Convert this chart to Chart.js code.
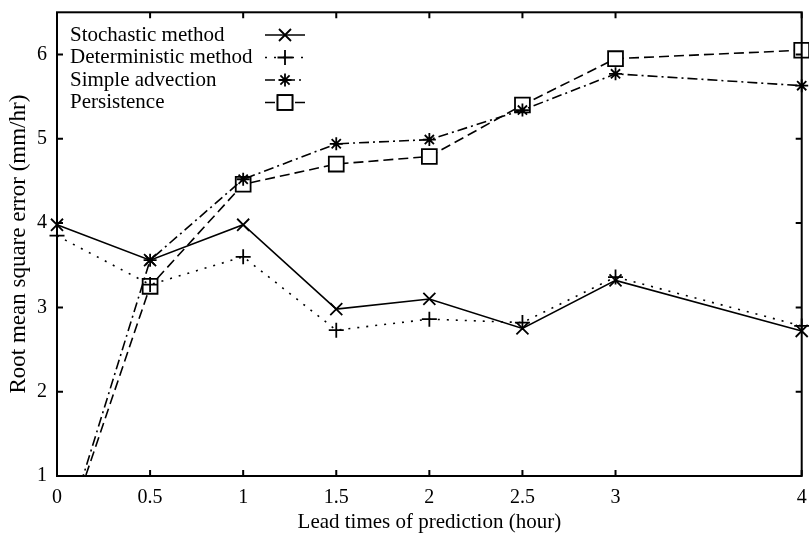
<!DOCTYPE html>
<html>
<head>
<meta charset="utf-8">
<script src="https://cdn.jsdelivr.net/npm/chart.js@4/dist/chart.umd.min.js"></script>
<style>
html,body{margin:0;padding:0;background:#fff;overflow:hidden}
#wrap{width:814px;height:538px;position:relative}
canvas{display:block}
</style>
</head>
<body>
<div id="wrap"><canvas id="c"></canvas></div>
<script>
const leadTimes=[0,0.5,1,1.5,2,2.5,3,4];
const xTicks=[0,0.5,1,1.5,2,2.5,3,4];
const yTicks=[1,2,3,4,5,6];
const stochastic=[3.98,3.56,3.98,2.98,3.1,2.75,3.32,2.72];
const deterministic=[3.85,3.27,3.6,2.73,2.86,2.82,3.36,2.78];
const advection=[0,3.56,4.52,4.94,4.99,5.34,5.77,5.63];
const persistence=[0,3.25,4.46,4.70,4.79,5.40,5.95,6.05];
const names=["Stochastic method","Deterministic method","Simple advection","Persistence"];

const font="'Liberation Serif','DejaVu Serif',serif";
const pts=v=>leadTimes.map((x,i)=>({x:x,y:v[i]}));
const clip={left:12,top:12,right:12,bottom:0};

function ds(label,vals,style,r,dash){
  return {label:label,data:pts(vals),borderColor:"#000",borderWidth:1.6,borderDash:dash,
    pointStyle:style,pointRadius:r,pointHoverRadius:r,pointBorderColor:"#000",
    pointBackgroundColor:"#fff",pointBorderWidth:1.8,tension:0,fill:false,clip:clip};
}

const frame={
  id:"frame",
  afterDatasetsDraw(chart){
    const c=chart.ctx,a=chart.chartArea,sx=chart.scales.x,sy=chart.scales.y;
    c.save();
    c.strokeStyle="#000";c.lineWidth=2;c.setLineDash([]);
    c.strokeRect(a.left,a.top,a.right-a.left,a.bottom-a.top);
    xTicks.forEach(v=>{
      const p=sx.getPixelForValue(v);
      c.beginPath();c.moveTo(p,a.bottom);c.lineTo(p,a.bottom-6);
      c.moveTo(p,a.top);c.lineTo(p,a.top+6);c.stroke();
    });
    yTicks.forEach(v=>{
      const p=sy.getPixelForValue(v);
      c.beginPath();c.moveTo(a.left,p);c.lineTo(a.left+6,p);
      c.moveTo(a.right,p);c.lineTo(a.right-6,p);c.stroke();
    });
    // legend: text on the left, sample on the right
    c.font="21px "+font;c.fillStyle="#000";c.textBaseline="middle";c.textAlign="left";
    chart.data.datasets.forEach((d,i)=>{
      const y=35+i*22.5;
      c.fillText(d.label,70,y);
      c.lineWidth=d.borderWidth;c.setLineDash(d.borderDash||[]);
      c.beginPath();c.moveTo(265,y);c.lineTo(305,y);c.stroke();
      c.setLineDash([]);
      c.lineWidth=d.pointBorderWidth;
      Chart.helpers.drawPoint(c,{pointStyle:d.pointStyle,radius:d.pointRadius,rotation:0,borderWidth:d.pointBorderWidth},285,y);
      if(d.pointStyle==="rect"){c.fillStyle="#fff";c.fill();c.stroke();c.fillStyle="#000";}
    });
    c.restore();
  }
};

new Chart(document.getElementById("c"),{
  type:"line",
  data:{datasets:[
    ds(names[0],stochastic,"crossRot",8.5,[]),
    ds(names[1],deterministic,"cross",7.5,[2,7]),
    ds(names[2],advection,"star",6.5,[10,4,2,4]),
    ds(names[3],persistence,"rect",10.5,[10,5])
  ]},
  options:{
    responsive:true,maintainAspectRatio:false,animation:false,
    layout:{padding:{left:0,top:11,right:4,bottom:0}},
    plugins:{legend:{display:false},tooltip:{enabled:false}},
    scales:{
      x:{type:"linear",min:0,max:4,
        afterBuildTicks:s=>{s.ticks=xTicks.map(v=>({value:v}));},
        afterFit:s=>{s.height=62;s.paddingLeft=0;s.paddingRight=0;},
        grid:{display:false,drawTicks:false},border:{display:false},
        ticks:{color:"#000",font:{family:font,size:20},padding:10,maxRotation:0,autoSkip:false,callback:v=>String(v)},
        title:{display:true,text:"Lead times of prediction (hour)",color:"#000",font:{family:font,size:21},padding:{top:0,bottom:3}}
      },
      y:{type:"linear",min:1,max:6.5,
        afterBuildTicks:s=>{s.ticks=yTicks.map(v=>({value:v}));},
        afterFit:s=>{s.width=57;s.paddingTop=0;s.paddingBottom=0;},
        grid:{display:false,drawTicks:false},border:{display:false},
        ticks:{color:"#000",font:{family:font,size:20},padding:10,callback:v=>String(v)},
        title:{display:true,text:"Root mean square error (mm/hr)",color:"#000",font:{family:font,size:23},padding:{top:5,bottom:0}}
      }
    }
  },
  plugins:[frame]
});
</script>
</body>
</html>
